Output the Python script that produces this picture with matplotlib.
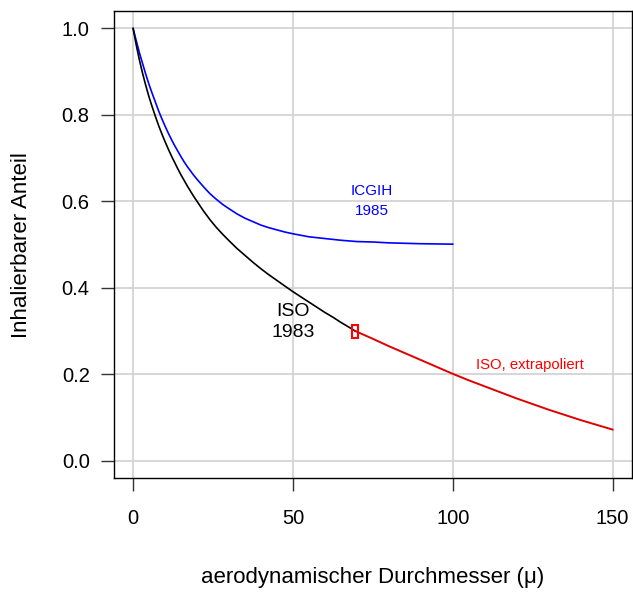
import matplotlib
matplotlib.use("Agg")
import matplotlib.pyplot as plt
from matplotlib.patches import Rectangle

plt.rcParams['font.family'] = ['Liberation Sans', 'DejaVu Sans']

# ── data ──
# ICGIH 1985 (blue), 0..100 µm
icgih_d = [0, 1, 2, 3, 4, 5, 6, 7, 8, 9, 10, 11, 12, 13, 14, 15, 16, 17, 18, 19,
           20, 22, 24, 26, 28, 30, 32.5, 35, 37.5, 40, 42.5, 45, 47.5, 50,
           55, 60, 65, 70, 75, 80, 90, 100]
icgih_v = [1.000, 0.971, 0.943, 0.918, 0.893, 0.870, 0.849, 0.829, 0.809, 0.791,
           0.774, 0.758, 0.743, 0.729, 0.716, 0.703, 0.691, 0.680, 0.670, 0.660,
           0.651, 0.634, 0.618, 0.605, 0.593, 0.583, 0.571, 0.561, 0.553, 0.545,
           0.539, 0.534, 0.529, 0.525, 0.518, 0.514, 0.510, 0.507, 0.506, 0.504,
           0.502, 0.501]

# ISO 1983 (black), 0..~70 µm
iso_d = [0, 1, 2, 3, 4, 5, 6, 7, 8, 9, 10, 11, 12, 13, 14, 15, 16, 17, 18, 19,
         20, 22, 24, 26, 28, 30, 32.5, 35, 37.5, 40, 42.5, 45, 47.5, 50,
         52.5, 55, 57.5, 60, 62.5, 65, 67.5, 69.5]
iso_v = [1.000, 0.961, 0.926, 0.895, 0.867, 0.841, 0.818, 0.796, 0.775, 0.756,
         0.738, 0.721, 0.705, 0.690, 0.675, 0.661, 0.648, 0.635, 0.623, 0.611,
         0.600, 0.578, 0.558, 0.540, 0.524, 0.509, 0.491, 0.475, 0.459, 0.444,
         0.430, 0.417, 0.404, 0.391, 0.379, 0.367, 0.355, 0.343, 0.332, 0.320,
         0.309, 0.300]

# ISO extrapolated (red), ~70..150 µm
ext_d = [69.5, 75, 80, 85, 90, 95, 100, 105, 110, 115, 120, 125, 130, 135,
         140, 145, 150]
ext_v = [0.300, 0.282, 0.265, 0.249, 0.233, 0.217, 0.201, 0.186, 0.172, 0.158,
         0.144, 0.131, 0.118, 0.106, 0.094, 0.083, 0.072]

# marker box where the extrapolation starts
box_d, box_v = 69.3, 0.299
box_w, box_h = 1.9, 0.031

x_ticks = [0, 50, 100, 150]
y_ticks = [0.0, 0.2, 0.4, 0.6, 0.8, 1.0]

GRID = '#d3d3d3'

fig = plt.figure(figsize=(6.33, 5.92), dpi=100, facecolor='white')
ax = fig.add_axes([0.180, 0.1926, 0.818, 0.7885])

ax.set_xlim(-6, 156)
ax.set_ylim(-0.04, 1.04)

for xv in x_ticks:
    ax.axvline(xv, color=GRID, linewidth=1.3, zorder=0)
for yv in y_ticks:
    ax.axhline(yv, color=GRID, linewidth=1.3, zorder=0)

ax.plot(icgih_d, icgih_v, color='blue', linewidth=1.2)
ax.plot(iso_d, iso_v, color='black', linewidth=1.2)
ax.plot(ext_d, ext_v, color='#e00000', linewidth=1.4)
ax.add_patch(Rectangle((box_d - box_w / 2, box_v - box_h / 2), box_w, box_h,
                       fill=False, edgecolor='red', linewidth=1.5, zorder=5))

ax.text(74.7, 0.624, 'ICGIH', color='blue', fontsize=11, ha='center', va='center')
ax.text(74.7, 0.577, '1985', color='blue', fontsize=11, ha='center', va='center')
ax.text(50, 0.345, 'ISO', color='black', fontsize=14, ha='center', va='center')
ax.text(50, 0.296, '1983', color='black', fontsize=14, ha='center', va='center')
ax.text(124, 0.222, 'ISO, extrapoliert', color='red', fontsize=10.7,
        ha='center', va='center')

ax.set_xticks(x_ticks)
ax.set_xticklabels([str(t) for t in x_ticks])
ax.set_yticks(y_ticks)
ax.set_yticklabels([f'{t:.1f}' for t in y_ticks])
ax.tick_params(axis='both', direction='out', length=9.5, width=1.0,
               labelsize=14.5, color='#333333')
ax.tick_params(axis='x', pad=13)
ax.tick_params(axis='y', pad=8)

for s in ax.spines.values():
    s.set_color('black')
    s.set_linewidth(1.0)

ax.set_xlabel('aerodynamischer Durchmesser (\u03bc)', fontsize=16, va='center')
ax.xaxis.set_label_coords(0.5, -0.214)
ax.set_ylabel('Inhalierbarer Anteil', fontsize=16, va='center')
ax.yaxis.set_label_coords(-0.178, 0.5)

plt.savefig('out.png', dpi=100, facecolor='white')
